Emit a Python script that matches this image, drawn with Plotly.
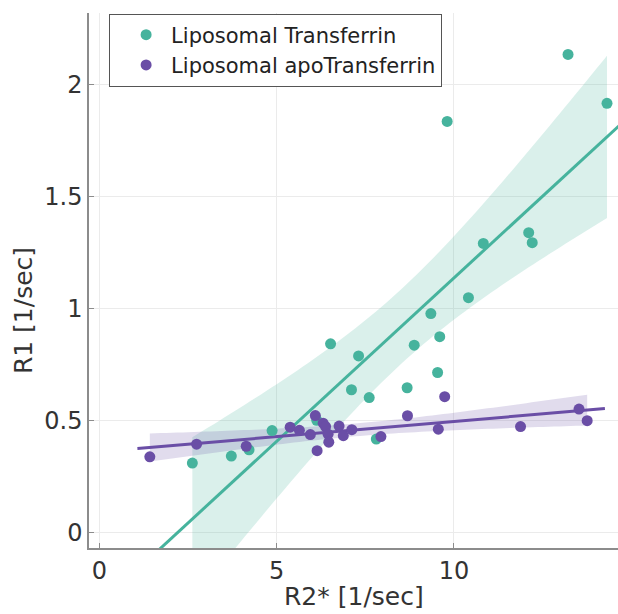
import numpy as np
import plotly.graph_objects as go

# ---- data ----
TF_X = [13.22, 14.32, 9.81, 12.11, 12.21, 10.83, 10.41, 9.35, 9.60, 8.88, 6.52,
        7.31, 9.54, 8.68, 7.11, 7.61, 4.87, 2.62, 3.72, 4.22, 7.81, 6.13]
TF_Y = [2.135, 1.917, 1.836, 1.340, 1.295, 1.292, 1.050, 0.979, 0.876, 0.838, 0.844,
        0.790, 0.716, 0.648, 0.639, 0.604, 0.457, 0.312, 0.343, 0.371, 0.419, 0.503]

APO_X = [1.42, 2.74, 4.14, 5.38, 5.64, 5.95, 6.09, 6.14, 6.31, 6.38, 6.45,
         6.47, 6.76, 6.88, 7.12, 7.94, 8.69, 9.74, 9.56, 11.88, 13.53, 13.76]
APO_Y = [0.340, 0.396, 0.387, 0.472, 0.458, 0.439, 0.524, 0.367, 0.490, 0.475, 0.441,
         0.405, 0.477, 0.434, 0.461, 0.430, 0.523, 0.608, 0.463, 0.475, 0.553, 0.501]

SERIES_NAMES = ["Liposomal Transferrin", "Liposomal apoTransferrin"]
LINE_X_TF = [1.0, 14.8]      # extent of drawn fit line
LINE_X_APO = [1.07, 14.26]
T_CRIT = 2.845               # t(0.995, df=20) -> 99% confidence band

X_TICKS = [0, 5, 10]
Y_TICKS = [0, 0.5, 1, 1.5, 2]
Y_TICK_TEXT = ["0", "0.5", "1", "1.5", "2"]
X_TITLE = "R2* [1/sec]"
Y_TITLE = "R1 [1/sec]"

TEAL = "#46b39d"
PURPLE = "#6a4ea6"
TEAL_FILL = "rgba(70,179,157,0.2)"
PURPLE_FILL = "rgba(106,78,166,0.2)"


def fit(xs, ys, line_ext):
    x = np.asarray(xs, float)
    y = np.asarray(ys, float)
    n = len(x)
    b, a = np.polyfit(x, y, 1)
    resid = y - (a + b * x)
    s = np.sqrt(np.sum(resid ** 2) / (n - 2))
    xm = x.mean()
    sxx = np.sum((x - xm) ** 2)
    gx = np.linspace(x.min(), x.max(), 80)
    gy = a + b * gx
    hw = T_CRIT * s * np.sqrt(1.0 / n + (gx - xm) ** 2 / sxx)
    lx = np.array(line_ext)
    ly = a + b * lx
    return gx, gy - hw, gy + hw, lx, ly


fig = go.Figure()

bands = []
for xs, ys, ext, col, fillc in [(TF_X, TF_Y, LINE_X_TF, TEAL, TEAL_FILL),
                                (APO_X, APO_Y, LINE_X_APO, PURPLE, PURPLE_FILL)]:
    gx, lo, hi, lx, ly = fit(xs, ys, ext)
    fig.add_trace(go.Scatter(x=np.concatenate([gx, gx[::-1]]),
                             y=np.concatenate([hi, lo[::-1]]),
                             fill="toself", fillcolor=fillc, mode="none",
                             hoverinfo="skip", showlegend=False))
    bands.append((lx, ly, col))

for lx, ly, col in bands:
    fig.add_trace(go.Scatter(x=lx, y=ly, mode="lines",
                             line=dict(color=col, width=3),
                             hoverinfo="skip", showlegend=False))

fig.add_trace(go.Scatter(x=TF_X, y=TF_Y, mode="markers", name=SERIES_NAMES[0],
                         marker=dict(color=TEAL, size=11, line=dict(width=0))))
fig.add_trace(go.Scatter(x=APO_X, y=APO_Y, mode="markers", name=SERIES_NAMES[1],
                         marker=dict(color=PURPLE, size=11, line=dict(width=0))))

axis_common = dict(showgrid=True, gridcolor="#ebebeb", gridwidth=1,
                   showline=True, linecolor="#8c8c8c", linewidth=1.5,
                   ticks="inside", ticklen=5, tickcolor="#8c8c8c", tickwidth=1,
                   zeroline=False, tickfont=dict(size=24, color="#333333"))

fig.update_xaxes(range=[-0.296, 14.63], tickvals=X_TICKS, **axis_common)
fig.update_yaxes(range=[-0.067, 2.32], tickvals=Y_TICKS, ticktext=Y_TICK_TEXT,
                 **axis_common)

fig.update_layout(
    width=618, height=614,
    margin=dict(l=89, r=0, t=13, b=66),
    plot_bgcolor="white", paper_bgcolor="white",
    font=dict(family="DejaVu Sans", size=24, color="#333333"),
    legend=dict(x=0.038, y=0.999, xanchor="left", yanchor="top",
                bgcolor="white", bordercolor="#555555", borderwidth=1,
                indentation=11, itemwidth=40,
                font=dict(size=21, color="#222222")),
    annotations=[
        dict(text=X_TITLE, x=0.5, y=-0.0903, xref="paper", yref="paper",
             xanchor="center", yanchor="middle", showarrow=False,
             font=dict(size=25, color="#333333")),
        dict(text=Y_TITLE, x=-0.1248, y=0.4446, xref="paper", yref="paper",
             xanchor="center", yanchor="middle", textangle=-90, showarrow=False,
             font=dict(size=25, color="#333333")),
    ],
)

fig.write_html("out.html")
